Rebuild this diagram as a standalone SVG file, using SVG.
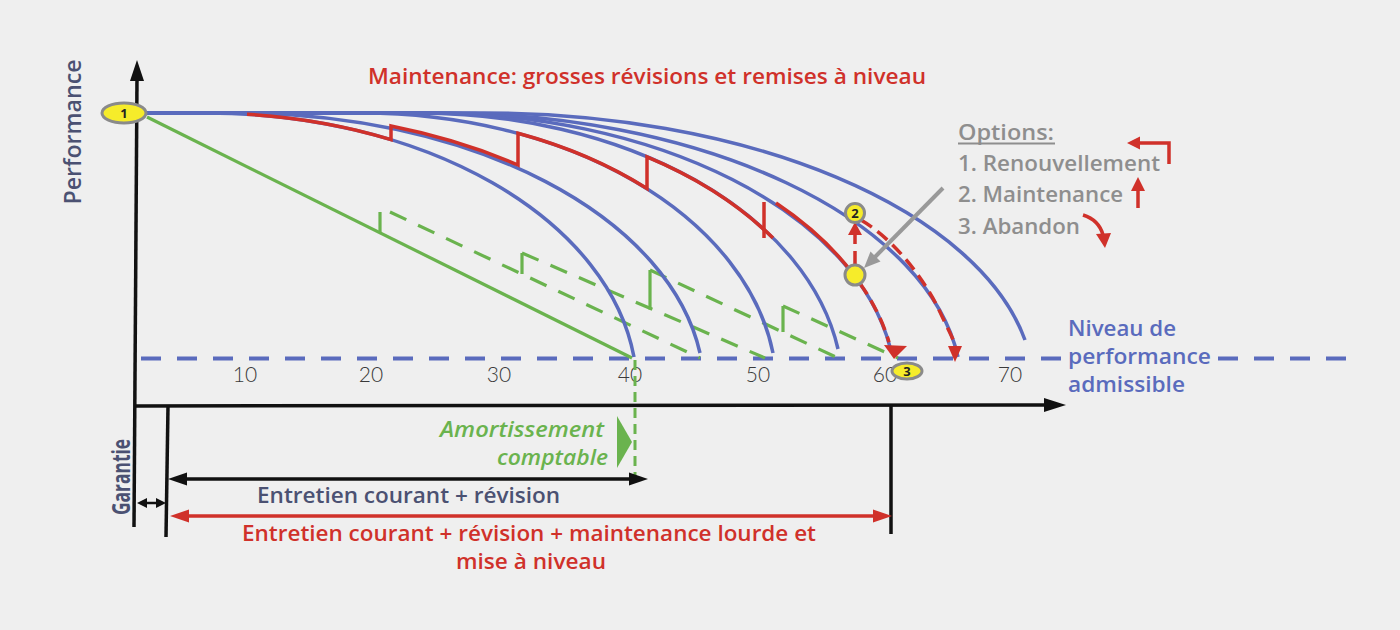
<svg xmlns="http://www.w3.org/2000/svg" width="1400" height="630" viewBox="0 0 1400 630">
<style>
.t{font-family:"Open Sans","Noto Sans","Liberation Sans",sans-serif;font-weight:600;font-size:22px}
.num{font-family:Lato,"Open Sans",sans-serif;font-weight:300;font-size:21px;fill:#3a3a3a;text-anchor:middle}
.lab{font-family:"Open Sans","Liberation Sans",sans-serif;font-weight:700;font-size:13px;fill:#222;text-anchor:middle}
.blue{fill:none;stroke:#5a6bbd;stroke-width:3.5}
.red{fill:none;stroke:#d0312a;stroke-width:3.5}
.redd{fill:none;stroke:#d0312a;stroke-width:3.5;stroke-dasharray:13 7}
.grn{fill:none;stroke:#6ab34e;stroke-width:3.2}
.grnd{fill:none;stroke:#6ab34e;stroke-width:3.2;stroke-dasharray:18 13}
.blk{fill:none;stroke:#111;stroke-width:3.5}
.mark{fill:#f6ec2a;stroke:#8a8a8a;stroke-width:3}
.rf{fill:#d0312a}
.bf{fill:#111}
.gf{fill:#6ab34e}
.dark{fill:#4b5172}
.gray{fill:#8e8e8e}
.redt{fill:#d0312a}
.bluet{fill:#5a6bbd}
.grnt{fill:#6ab34e;font-style:italic}
</style>
<rect width="1400" height="630" fill="#efefef"/>

<g id="admissible-line">
<path d="M141,358.5 H1062 M1218,358.5 H1346" fill="none" stroke="#5a6bbd" stroke-width="4" stroke-dasharray="20 16"/>
</g>

<g id="tick-labels">
<text class="num" x="245" y="382">10</text>
<text class="num" x="371" y="382">20</text>
<text class="num" x="499" y="382">30</text>
<text class="num" x="630" y="382">40</text>
<text class="num" x="758" y="382">50</text>
<text class="num" x="885" y="382">60</text>
<text class="num" x="1010" y="382">70</text>
</g>

<g id="green-amortissement">
<path class="grn" d="M147,117 L632,358"/>
<path class="grn" d="M380,212 V233 M522,274 V253 M650,309.5 V270 M783,332 V306"/>
<path class="grnd" d="M390,212 L700,358"/>
<path class="grnd" d="M522,253 L765,358"/>
<path class="grnd" d="M650,270 L838,358"/>
<path class="grnd" d="M783,306 L898,358"/>
<path d="M635,360 V484" fill="none" stroke="#6ab34e" stroke-width="3" stroke-dasharray="10 6"/>
<polygon class="gf" points="617,416 632,442 617,468"/>
</g>

<g id="performance-curves">
<path class="blue" d="M147,113 H207 A430 277 0 0 1 634,357"/>
<path class="blue" d="M147,113 H239 A465 277 0 0 1 700,353"/>
<path class="blue" d="M147,113 H362 A415 277 0 0 1 773,353"/>
<path class="blue" d="M147,113 H418 A424.5 277 0 0 1 838,349"/>
<path class="blue" d="M147,113 H429 A467 277 0 0 1 890,347"/>
<path class="blue" d="M147,113 H440 A521.5 277 0 0 1 958,357"/>
<path class="blue" d="M147,113 H484 A550 277 0 0 1 1025,340"/>
</g>

<g id="maintenance-path">
<path class="red" d="M247,114.2 A430 277 0 0 1 391,139.6 L391,126 A465 277 0 0 1 518,165 L518,133.3 A415 277 0 0 1 647,188.6 L647,156.8 A424.5 277 0 0 1 773,238.1"/>
<path class="red" d="M764,202 V238"/>
<path class="red" d="M776,203 A467 277 0 0 1 854,275.2"/>
</g>

<g id="options-paths">
<path class="redd" d="M860,283.4 A467 277 0 0 1 889,342.2"/>
<polygon class="rf" points="884,345 907,346 894,359"/>
<path class="redd" d="M855,264 V234"/>
<polygon class="rf" points="855,222 848,235 862,235"/>
<path class="redd" d="M861,220 C895,240 925,280 940,312 S953,338 955,347"/>
<polygon class="rf" points="955,362 948,346 962,346"/>
<path d="M943,188 L875,257" fill="none" stroke="#999" stroke-width="4"/>
<polygon fill="#999" points="864,268 880.5,261.5 870.5,251.5"/>
</g>

<g id="marker-current">
<circle class="mark" cx="855" cy="275" r="10"/>
</g>
<g id="marker-2">
<circle class="mark" cx="855" cy="213" r="9.5"/>
<text class="lab" x="855" y="218">2</text>
</g>
<g id="marker-3">
<ellipse class="mark" cx="907" cy="371" rx="15" ry="8"/>
<text class="lab" x="907" y="376">3</text>
</g>

<g id="axes">
<path class="blk" d="M137,78 L134,527"/>
<polygon class="bf" points="137,60 130,81 144,81"/>
<path class="blk" d="M136,406 L1046,405"/>
<polygon class="bf" points="1066,405 1044,398 1044,412"/>
<path class="blk" d="M168,406 L166,537"/>
<path class="blk" d="M891,406 L891,534"/>
</g>

<g id="marker-1">
<ellipse class="mark" cx="124" cy="113" rx="22" ry="10"/>
<text class="lab" x="124" y="118">1</text>
</g>

<g id="span-arrows">
<path d="M145,503 H158" fill="none" stroke="#111" stroke-width="2.5"/>
<polygon class="bf" points="137,503 147,498 147,508"/>
<polygon class="bf" points="166,503 156,498 156,508"/>
<path d="M184,479 H632" fill="none" stroke="#111" stroke-width="3.5"/>
<polygon class="bf" points="168,479 187,472.5 187,485.5"/>
<polygon class="bf" points="648,479 629,472.5 629,485.5"/>
<path d="M186,516 H876" fill="none" stroke="#d0312a" stroke-width="3.5"/>
<polygon class="rf" points="170,516 189,509.5 189,522.5"/>
<polygon class="rf" points="892,516 873,509.5 873,522.5"/>
</g>

<g id="title">
<text class="t redt" x="368" y="84" textLength="558" lengthAdjust="spacingAndGlyphs">Maintenance: grosses révisions et remises à niveau</text>
</g>

<g id="axis-labels">
<text class="t dark" transform="translate(81,132) rotate(-90)" text-anchor="middle" style="font-size:24px" textLength="145" lengthAdjust="spacingAndGlyphs">Performance</text>
<text class="t dark" transform="translate(130,477) rotate(-90)" text-anchor="middle" style="font-size:25px;font-weight:700" textLength="76" lengthAdjust="spacingAndGlyphs">Garantie</text>
</g>

<g id="options">
<text class="t gray" x="958" y="140" textLength="96" lengthAdjust="spacingAndGlyphs">Options:</text>
<path d="M958,143.5 H1055" stroke="#8e8e8e" stroke-width="2"/>
<text class="t gray" x="958" y="171" textLength="202" lengthAdjust="spacingAndGlyphs">1. Renouvellement</text>
<text class="t gray" x="958" y="202" textLength="165" lengthAdjust="spacingAndGlyphs">2. Maintenance</text>
<text class="t gray" x="958" y="234" textLength="122" lengthAdjust="spacingAndGlyphs">3. Abandon</text>
<path class="red" d="M1169,164 V143 H1138"/>
<polygon class="rf" points="1127,143 1140,136.5 1140,149.5"/>
<path class="red" d="M1138,208 V189"/>
<polygon class="rf" points="1138,177 1131,191 1145,191"/>
<path class="red" d="M1083,215 Q1099,220 1103,235"/>
<polygon class="rf" points="1105,248 1096,234 1111,233"/>
</g>

<g id="niveau-label">
<text class="t bluet" x="1068" y="336" textLength="108" lengthAdjust="spacingAndGlyphs">Niveau de</text>
<text class="t bluet" x="1068" y="364" textLength="143" lengthAdjust="spacingAndGlyphs">performance</text>
<text class="t bluet" x="1068" y="392" textLength="117" lengthAdjust="spacingAndGlyphs">admissible</text>
</g>

<g id="amortissement-label">
<text class="t grnt" x="440" y="437" textLength="164" lengthAdjust="spacingAndGlyphs">Amortissement</text>
<text class="t grnt" x="497" y="465" textLength="111" lengthAdjust="spacingAndGlyphs">comptable</text>
</g>

<g id="entretien-labels">
<text class="t dark" x="257" y="503" textLength="303" lengthAdjust="spacingAndGlyphs">Entretien courant + révision</text>
<text class="t redt" x="242" y="541" textLength="574" lengthAdjust="spacingAndGlyphs">Entretien courant + révision + maintenance lourde et</text>
<text class="t redt" x="456" y="569" textLength="150" lengthAdjust="spacingAndGlyphs">mise à niveau</text>
</g>
</svg>
